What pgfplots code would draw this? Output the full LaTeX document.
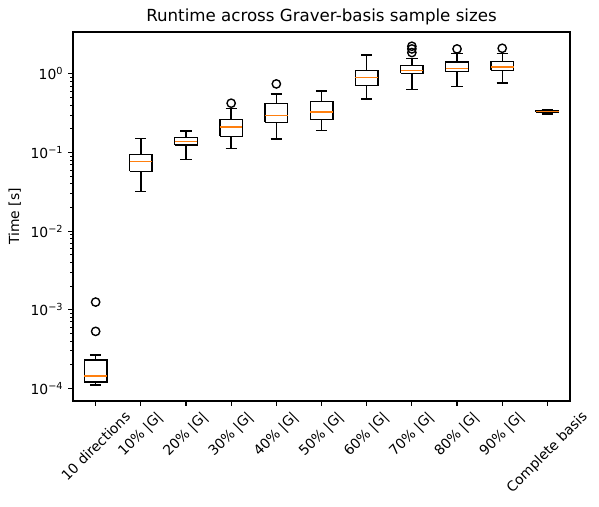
\documentclass[border=0pt]{standalone}
\usepackage{fontspec}
\setmainfont{DejaVu Sans}
\usepackage{graphicx}
\usepackage{pgfplots}
\pgfplotsset{compat=1.18}
\definecolor{mplorange}{RGB}{255,127,14}

% one box: position, lower whisker, Q1, median, Q3, upper whisker
\newcommand{\gbox}[6]{%
  \pgfmathsetmacro\xa{#1-0.25}\pgfmathsetmacro\xb{#1+0.25}%
  \pgfmathsetmacro\xc{#1-0.125}\pgfmathsetmacro\xd{#1+0.125}%
  \addplot[black, line width=1pt] coordinates {
    (\xa,#3) (\xb,#3) (\xb,#5) (\xa,#5) (\xa,#3) (#1,nan)
    (#1,#3) (#1,#2) (#1,nan) (\xc,#2) (\xd,#2) (#1,nan)
    (#1,#5) (#1,#6) (#1,nan) (\xc,#6) (\xd,#6)};
  \addplot[mplorange, line width=1pt] coordinates {(\xa,#4) (\xb,#4)};
}

\begin{document}
\begin{tikzpicture}
\path[use as bounding box] (-52.6pt,-76.3pt) rectangle (378.7pt,288.7pt);
\begin{axis}[
  at={(0,0)}, anchor=south west,
  scale only axis, width=357.8pt, height=265.7pt,
  ymode=log,
  xmin=0.5, xmax=11.5, ymin=6.9e-5, ymax=3.42,
  unbounded coords=jump,
  axis line style={line width=0.8pt},
  tick align=outside, tick pos=left,
  major tick length=3.5pt, minor tick length=2pt,
  every tick/.style={black, line width=0.8pt},
  minor tick style={line width=0.6pt},
  xtick={1,...,11},
  xticklabels={\rotatebox{45}{10 directions}, \rotatebox{45}{10\% |G|}, \rotatebox{45}{20\% |G|},
    \rotatebox{45}{30\% |G|}, \rotatebox{45}{40\% |G|}, \rotatebox{45}{50\% |G|},
    \rotatebox{45}{60\% |G|}, \rotatebox{45}{70\% |G|}, \rotatebox{45}{80\% |G|},
    \rotatebox{45}{90\% |G|}, \rotatebox{45}{Complete basis}},
  x tick label style={anchor=north, font=\fontsize{10}{12}\selectfont, inner sep=2pt, yshift=-1pt},
  ytick={1e-4,1e-3,1e-2,1e-1,1},
  yticklabels={10\textsuperscript{−4}, 10\textsuperscript{−3}, 10\textsuperscript{−2}, 10\textsuperscript{−1}, 10\textsuperscript{0}},
  y tick label style={font=\fontsize{10}{12}\selectfont},
  ylabel={Time [s]},
  ylabel style={font=\fontsize{10}{12}\selectfont},
  title={Runtime across Graver-basis sample sizes},
  title style={font=\fontsize{12}{14}\selectfont, yshift=-4.5pt},
]
\gbox{1}{1.10e-4}{1.20e-4}{1.43e-4}{2.28e-4}{2.64e-4}
\gbox{2}{0.0322}{0.0578}{0.0775}{0.095}{0.152}
\gbox{3}{0.082}{0.124}{0.138}{0.156}{0.188}
\gbox{4}{0.113}{0.160}{0.210}{0.265}{0.366}
\gbox{5}{0.148}{0.243}{0.298}{0.424}{0.557}
\gbox{6}{0.192}{0.265}{0.329}{0.449}{0.608}
\gbox{7}{0.477}{0.718}{0.908}{1.114}{1.745}
\gbox{8}{0.638}{1.02}{1.11}{1.29}{1.58}
\gbox{9}{0.697}{1.07}{1.17}{1.41}{1.83}
\gbox{10}{0.77}{1.11}{1.22}{1.45}{1.83}
\gbox{11}{0.308}{0.325}{0.332}{0.338}{0.350}
% outliers
\addplot[only marks, mark=o, mark size=3pt, mark options={black, line width=1pt}] coordinates {
  (1,1.25e-3) (1,5.3e-4) (4,0.424) (5,0.746) (8,2.25) (8,2.08) (8,1.87) (9,2.08) (10,2.12)};
\end{axis}
\end{tikzpicture}
\end{document}
